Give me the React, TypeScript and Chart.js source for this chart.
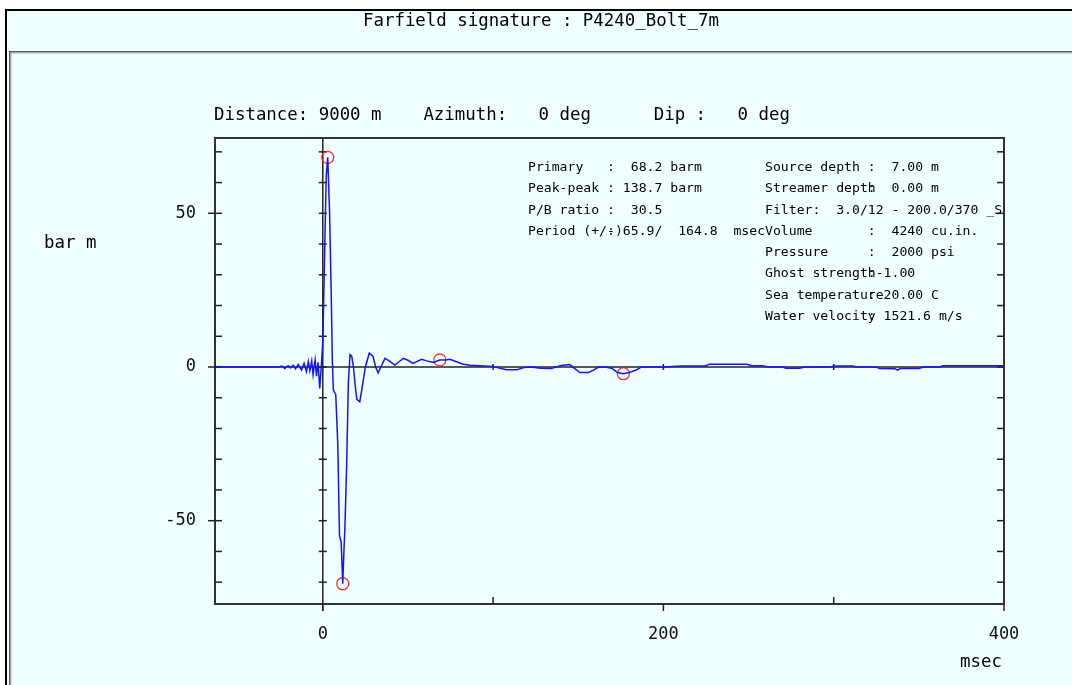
import React, { useEffect, useRef } from "react";
import { Chart, registerables } from "chart.js";

Chart.register(...registerables);

// ---- data ----
const timeMs = [
  -63.3, -26, -24, -22.3, -20.4, -19, -17.4, -16, -14.5, -12.5,
  -11, -9.6, -8.5, -7.6, -6.5, -5.7, -4.5, -3.7, -2.8, -1.8,
  -0.8, 0, 1, 2, 2.9, 4, 5, 5.6, 6.2, 7.6,
  8.8, 9.8, 10.8, 11.7, 12.4, 13, 14, 15, 16, 17,
  18, 19, 20, 21.7, 23, 25, 27.3, 29.5, 31, 32.5,
  34.5, 36.5, 39, 42.3, 45, 47.2, 50, 53, 56, 58,
  61, 64.8, 68.7, 72, 74.6, 78.5, 82, 86.3, 92, 100,
  104, 108, 114, 118, 122, 128, 134, 140, 145, 148,
  151, 156, 159, 162, 166, 170, 173, 176.5, 180, 184,
  187, 200, 211, 224, 227, 249, 252, 258, 262, 270,
  272, 280, 283, 298, 300, 311, 314, 325, 327, 336,
  337.5, 339, 350, 353, 362, 364, 399, 400,
];

const signalBarM = [
  0, 0, 0.3, -0.5, 0.4, -0.3, 0.6, -0.6, 0.8, -1,
  1.2, -1.5, 1.8, -1.2, 2, -2.5, 2.3, -3, 1.5, -7,
  1, 8, 35, 62, 68.2, 50, 22, 2, -7.5, -9,
  -25, -55, -57, -70.5, -60, -52, -32, -5, 4, 3.5,
  0, -6, -10.5, -11.3, -7, 0, 4.5, 3.5, 0, -1.9,
  0.5, 2.8, 2, 0.6, 1.8, 2.8, 2.2, 1.2, 2, 2.5,
  2, 1.5, 2.3, 2.3, 2.5, 1.7, 1, 0.6, 0.4, 0.2,
  -0.4, -0.9, -0.9, -0.2, 0, -0.4, -0.5, 0.5, 0.8, -0.5,
  -1.8, -1.8, -1, 0, 0, -0.5, -1.8, -2.2, -1.8, -1,
  0, 0, 0.3, 0.3, 0.9, 0.9, 0.4, 0.4, 0, 0,
  -0.4, -0.4, 0, 0, 0.3, 0.3, 0, 0, -0.5, -0.6,
  -1, -0.5, -0.5, 0, 0, 0.4, 0.4, 0,
];

const markerTimeMs = [2.9, 11.7, 68.7, 176.5];
const markerValue = [68.2, -70.5, 2.3, -2.2];

const xTickValues = [0, 200, 400];
const xMinorTickValues = [100, 300];
const zeroLineTickValues = [100, 200, 300];
const yTickValues = [-50, 0, 50];
const yMinorTickValues = [-70, -60, -50, -40, -30, -20, -10, 0, 10, 20, 30, 40, 50, 60, 70];

const X_MIN = -63.3;
const X_MAX = 400;
const Y_MIN = -77.1;
const Y_MAX = 74.5;

// ---- texts ----
const titleText = "Farfield signature : P4240_Bolt_7m";
const headerText = "Distance: 9000 m    Azimuth:   0 deg      Dip :   0 deg";
const infoRows = [
  "Primary   :  68.2 barm        Source depth :  7.00 m",
  "Peak-peak : 138.7 barm        Streamer depth  0.00 m",
  "P/B ratio :  30.5             Filter:  3.0/12 - 200.0/370 _S",
  "Period (+/-)65.9/  164.8  msecVolume       :  4240 cu.in.",
  "                              Pressure     :  2000 psi",
  "                              Ghost strength-1.00",
  "                              Sea temperature20.00 C",
  "                              Water velocity 1521.6 m/s",
];
const infoOverlayRows = [
  "",
  "                                           :",
  "",
  "          :",
  "",
  "                                           :",
  "                                           :",
  "                                           :",
];
const yAxisTitle = "bar m";
const xAxisTitle = "msec";

const MONO = "'DejaVu Sans Mono', 'Liberation Mono', monospace";

const decorPlugin = {
  id: "decor",
  beforeDraw(chart: any) {
    const { ctx, width, height } = chart;
    ctx.save();
    ctx.fillStyle = "#ffffff";
    ctx.fillRect(0, 0, width, height);
    ctx.fillStyle = "#f0ffff";
    ctx.fillRect(7, 11, width - 7, height - 11);
    ctx.fillStyle = "#000000";
    ctx.fillRect(5, 9, width - 5, 2);
    ctx.fillRect(5, 9, 2, height - 9);
    ctx.fillStyle = "#555555";
    ctx.fillRect(9, 51, width - 9, 1.5);
    ctx.fillRect(9, 51, 1.5, height - 51);
    ctx.fillStyle = "#aaaaaa";
    ctx.fillRect(10.5, 52.5, width - 10.5, 1);
    ctx.fillRect(10.5, 52.5, 1, height - 52.5);
    ctx.restore();
  },
  beforeDatasetsDraw(chart: any) {
    const { ctx, chartArea: a } = chart;
    const xs = chart.scales.x;
    const ys = chart.scales.y;
    const ln = (x1: number, y1: number, x2: number, y2: number) => {
      ctx.beginPath();
      ctx.moveTo(x1, y1);
      ctx.lineTo(x2, y2);
      ctx.stroke();
    };
    ctx.save();
    ctx.strokeStyle = "#333333";
    ctx.lineWidth = 2;
    ctx.strokeRect(a.left, a.top, a.right - a.left, a.bottom - a.top);
    const x0 = xs.getPixelForValue(0);
    const y0 = ys.getPixelForValue(0);
    ctx.lineWidth = 1.5;
    ctx.strokeStyle = "#222222";
    ln(a.left, y0, a.right, y0);
    ln(x0, a.top, x0, a.bottom + 7);
    for (const v of yMinorTickValues) {
      const py = ys.getPixelForValue(v);
      ln(a.left, py, a.left + 7, py);
      ln(a.right - 7, py, a.right, py);
      ln(x0 - 4, py, x0 + 4, py);
    }
    for (const v of yTickValues) {
      const py = ys.getPixelForValue(v);
      ln(a.left - 7, py, a.left, py);
    }
    for (const v of xMinorTickValues) {
      const px = xs.getPixelForValue(v);
      ln(px, a.bottom, px, a.bottom - 7);
    }
    for (const v of xTickValues) {
      const px = xs.getPixelForValue(v);
      ln(px, a.bottom, px, a.bottom + 7);
    }
    for (const v of zeroLineTickValues) {
      const px = xs.getPixelForValue(v);
      ln(px, y0 - 3, px, y0 + 3);
    }
    ctx.restore();
  },
};

function FarfieldChart() {
  const ref = useRef<HTMLCanvasElement | null>(null);
  useEffect(() => {
    if (!ref.current) return;
    const chart = new Chart(ref.current, {
      type: "scatter",
      data: {
        datasets: [
          {
            data: timeMs.map((t, i) => ({ x: t, y: signalBarM[i] })),
            showLine: true,
            borderColor: "#1414ff",
            borderWidth: 1.5,
            pointRadius: 0,
            tension: 0,
            fill: false,
          } as any,
          {
            data: markerTimeMs.map((t, i) => ({ x: t, y: markerValue[i] })),
            showLine: false,
            pointStyle: "circle",
            pointRadius: 6,
            borderColor: "#ff2020",
            backgroundColor: "rgba(0,0,0,0)",
            borderWidth: 1.2,
          } as any,
        ],
      },
      options: {
        responsive: false,
        animation: false,
        devicePixelRatio: 1,
        layout: { padding: { left: 0, top: 138, right: 68, bottom: 0 } },
        plugins: {
          legend: { display: false },
          tooltip: { enabled: false },
          title: { display: false },
        },
        scales: {
          x: {
            type: "linear",
            min: X_MIN,
            max: X_MAX,
            grid: { display: false, drawTicks: false },
            border: { display: false },
            afterBuildTicks: (s: any) => {
              s.ticks = xTickValues.map((v) => ({ value: v }));
            },
            afterFit: (s: any) => {
              s.height = 81;
            },
            ticks: {
              font: { family: MONO, size: 17 },
              color: "#111111",
              padding: 20,
              maxRotation: 0,
              autoSkip: false,
              callback: (v: any) => String(v),
            },
          },
          y: {
            type: "linear",
            min: Y_MIN,
            max: Y_MAX,
            grid: { display: false, drawTicks: false },
            border: { display: false },
            afterBuildTicks: (s: any) => {
              s.ticks = yTickValues.map((v) => ({ value: v }));
            },
            afterFit: (s: any) => {
              s.width = 215;
            },
            ticks: {
              font: { family: MONO, size: 17 },
              color: "#111111",
              padding: 19,
              autoSkip: false,
              callback: (v: any) => String(v),
            },
          },
        },
      } as any,
      plugins: [decorPlugin],
    });
    return () => chart.destroy();
  }, []);
  return <canvas ref={ref} width={1072} height={685} style={{ display: "block" }} />;
}

const textBase: React.CSSProperties = {
  position: "absolute",
  fontFamily: MONO,
  whiteSpace: "pre",
  color: "#000000",
  margin: 0,
};

export default function App() {
  const infoFont = 13.14;
  const infoLine = 21.3;
  return (
    <div style={{ position: "fixed", left: 0, top: 0, width: 1072, height: 685, overflow: "hidden" }}>
      <FarfieldChart />
      <div style={{ ...textBase, left: 363, top: 10, fontSize: 17.4, lineHeight: "20px" }}>{titleText}</div>
      <div style={{ ...textBase, left: 214, top: 104, fontSize: 17.4, lineHeight: "20px" }}>{headerText}</div>
      <div style={{ ...textBase, left: 44, top: 232, fontSize: 17.4, lineHeight: "20px" }}>{yAxisTitle}</div>
      <div style={{ ...textBase, left: 960, top: 651, fontSize: 17.4, lineHeight: "20px" }}>{xAxisTitle}</div>
      <div style={{ ...textBase, left: 528, top: 156, fontSize: infoFont, lineHeight: infoLine + "px" }}>
        {infoRows.join("\n")}
      </div>
      <div style={{ ...textBase, left: 528, top: 156, fontSize: infoFont, lineHeight: infoLine + "px" }}>
        {infoOverlayRows.join("\n")}
      </div>
    </div>
  );
}
